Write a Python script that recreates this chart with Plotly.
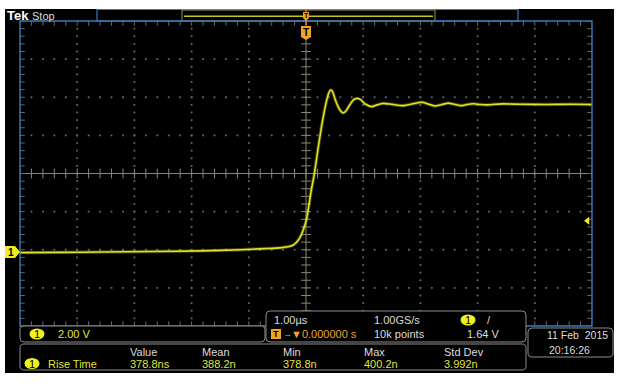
import plotly.graph_objects as go
import numpy as np

# ---------------- data ----------------
TIME_US = [-5.00, -4.30, -3.60, -2.73, -1.85, -1.15, -0.72, -0.455, -0.315,
           -0.227, -0.157, -0.105, -0.052, 0.009, 0.052, 0.087, 0.145, 0.215,
           0.292, 0.362, 0.402, 0.432, 0.463, 0.507, 0.559, 0.612, 0.652,
           0.699, 0.769, 0.830, 0.897, 0.962, 1.031, 1.149, 1.241, 1.346,
           1.503, 1.696, 1.853, 2.023, 2.133, 2.255, 2.378, 2.488, 2.605,
           2.722, 2.815, 2.925, 3.042, 3.159, 3.304, 3.444, 3.741, 4.178,
           4.615, 5.00]
VOLTS = [-0.03, -0.02, 0.00, 0.03, 0.06, 0.12, 0.18, 0.22, 0.28,
         0.36, 0.54, 0.77, 1.13, 1.71, 2.47, 3.15, 4.09, 5.51,
         6.93, 7.97, 8.37, 8.50, 8.43, 8.03, 7.64, 7.38, 7.30,
         7.40, 7.74, 7.98, 8.06, 7.98, 7.77, 7.63, 7.72, 7.80,
         7.75, 7.68, 7.77, 7.86, 7.77, 7.66, 7.74, 7.81, 7.74,
         7.68, 7.74, 7.78, 7.74, 7.72, 7.75, 7.77, 7.75, 7.74,
         7.75, 7.74]
TRIG_LEVEL_V = 1.64
VOLTS_PER_DIV = 2.0
US_PER_DIV = 1.0
GROUND_OFFSET_DIV = 2.06          # ground marker below screen centre
MEAS_LABELS = ["Value", "Mean", "Min", "Max", "Std Dev"]
MEAS_VALUES = ["378.8ns", "388.2n", "378.8n", "400.2n", "3.992n"]

# ---------------- geometry helpers ----------------
W, H = 620, 384
def px(x): return x / W
def py(y): return 1 - y / H

GX0, GX1, GY0, GY1 = 20, 592, 21, 326
T_RANGE = [-5 * US_PER_DIV, 5 * US_PER_DIV]
V_LO = -(4 - GROUND_OFFSET_DIV) * VOLTS_PER_DIV
V_RANGE = [V_LO, V_LO + 8 * VOLTS_PER_DIV]
DX = (T_RANGE[1] - T_RANGE[0]) / (GX1 - GX0)   # data per pixel
DY = (V_RANGE[1] - V_RANGE[0]) / (GY1 - GY0)

FONT = "Liberation Sans Narrow, Arial Narrow, Liberation Sans, sans-serif"
WHITE = "#dcdcdc"
YEL = "#e4e43a"
ORANGE = "#f2a229"
GRID = "#666666"
CROSS = "#8a8674"
BLUE = "#3d79b8"

fig = go.Figure()

# graticule dots
gx, gy = [], []
vsteps = np.arange(V_RANGE[0], V_RANGE[1] + 1e-9, VOLTS_PER_DIV / 5)
tsteps = np.arange(T_RANGE[0], T_RANGE[1] + 1e-9, US_PER_DIV / 5)
for k in range(1, 10):
    if k == 5:
        continue
    t = T_RANGE[0] + k * US_PER_DIV
    for v in vsteps[1:-1]:
        gx.append(t); gy.append(v)
for k in range(1, 8):
    if k == 4:
        continue
    v = V_RANGE[0] + k * VOLTS_PER_DIV
    for t in tsteps[1:-1]:
        gx.append(t); gy.append(v)
fig.add_trace(go.Scatter(x=gx, y=gy, mode="markers", hoverinfo="skip",
                         marker=dict(symbol="square", size=1.8, color=GRID, line=dict(width=0))))

# centre cross
tc = (T_RANGE[0] + T_RANGE[1]) / 2
vc = (V_RANGE[0] + V_RANGE[1]) / 2
fig.add_trace(go.Scatter(x=[T_RANGE[0], T_RANGE[1], None, tc, tc],
                         y=[vc, vc, None, V_RANGE[0], V_RANGE[1]],
                         mode="lines", hoverinfo="skip",
                         line=dict(color=CROSS, width=1)))
fig.add_trace(go.Scatter(x=list(tsteps), y=[vc] * len(tsteps), mode="markers", hoverinfo="skip",
                         marker=dict(symbol="line-ns", size=7, line=dict(color=CROSS, width=1))))
fig.add_trace(go.Scatter(x=[tc] * len(vsteps), y=list(vsteps), mode="markers", hoverinfo="skip",
                         marker=dict(symbol="line-ew", size=7, line=dict(color=CROSS, width=1))))
# border ticks
bx = list(tsteps) + list(tsteps)
by = [V_RANGE[1] - 2 * DY] * len(tsteps) + [V_RANGE[0] + 2 * DY] * len(tsteps)
fig.add_trace(go.Scatter(x=bx, y=by, mode="markers", hoverinfo="skip",
                         marker=dict(symbol="line-ns", size=4, line=dict(color=GRID, width=1))))
bx = [T_RANGE[0] + 2 * DX] * len(vsteps) + [T_RANGE[1] - 2 * DX] * len(vsteps)
by = list(vsteps) + list(vsteps)
fig.add_trace(go.Scatter(x=bx, y=by, mode="markers", hoverinfo="skip",
                         marker=dict(symbol="line-ew", size=4, line=dict(color=GRID, width=1))))

# waveform (fuzz + core)
fig.add_trace(go.Scatter(x=TIME_US, y=VOLTS, mode="lines", hoverinfo="skip",
                         line=dict(color="rgba(225,225,30,0.30)", width=3.4, shape="spline", smoothing=0.6)))
fig.add_trace(go.Scatter(x=TIME_US, y=VOLTS, mode="lines", hoverinfo="skip",
                         line=dict(color="#e2e222", width=1.6, shape="spline", smoothing=0.6)))

# trigger level arrow
fig.add_trace(go.Scatter(x=[T_RANGE[1] - 4.5 * DX], y=[TRIG_LEVEL_V], mode="markers", hoverinfo="skip",
                         marker=dict(symbol="triangle-left", size=7, color="#f0f020")))

shapes = []
# black screen
shapes.append(dict(type="rect", xref="paper", yref="paper", x0=px(5), x1=px(614), y0=py(373), y1=py(9),
                   fillcolor="black", line=dict(width=0), layer="below"))

def rrect(x0, y0, x1, y1, r=4, color="#8c8c8c", fill="black", width=1):
    def P(x, y): return f"{px(x):.5f},{py(y):.5f}"
    path = (f"M {P(x0 + r, y0)} L {P(x1 - r, y0)} Q {P(x1, y0)} {P(x1, y0 + r)} "
            f"L {P(x1, y1 - r)} Q {P(x1, y1)} {P(x1 - r, y1)} L {P(x0 + r, y1)} "
            f"Q {P(x0, y1)} {P(x0, y1 - r)} L {P(x0, y0 + r)} Q {P(x0, y0)} {P(x0 + r, y0)} Z")
    return dict(type="path", xref="paper", yref="paper", path=path, fillcolor=fill,
                line=dict(color=color, width=width), layer="above")

# top bar
shapes.append(dict(type="rect", xref="paper", yref="paper", x0=px(97), x1=px(518), y0=py(21), y1=py(9.5),
                   fillcolor="black", line=dict(color=BLUE, width=1.2), layer="above"))
shapes.append(dict(type="rect", xref="paper", yref="paper", x0=px(182), x1=px(435), y0=py(21), y1=py(10),
                   fillcolor="black", line=dict(color="#9c9460", width=1), layer="above"))
shapes.append(dict(type="line", xref="paper", yref="paper", x0=px(184), x1=px(433), y0=py(16.3), y1=py(16.3),
                   line=dict(color="#c8c418", width=1.6), layer="above"))

# graticule border
shapes.append(dict(type="rect", xref="paper", yref="paper", x0=px(GX0), x1=px(GX1), y0=py(GY1), y1=py(GY0),
                   fillcolor="rgba(0,0,0,0)", line=dict(color=BLUE, width=1.4), layer="above"))

# bottom boxes
shapes.append(rrect(20, 326, 265, 342))
shapes.append(rrect(266, 311, 526, 342))
shapes.append(rrect(20, 344, 526, 370))
shapes.append(rrect(528, 328, 613, 357))

# ground marker (channel 1) at 0 V
gh = 6 * DY
shapes.append(dict(type="path", xref="paper", yref="y",
                   path=f"M {px(5)},{-gh} L {px(15)},{-gh} L {px(20)},0 L {px(15)},{gh} L {px(5)},{gh} Z",
                   fillcolor="#f0f020", line=dict(width=0), layer="above"))

# trigger position markers
def tag(xc, yt, h, w):
    return dict(type="path", xref="paper", yref="paper",
                path=(f"M {px(xc - w)},{py(yt)} L {px(xc + w)},{py(yt)} L {px(xc + w)},{py(yt + h - 3)} "
                      f"L {px(xc)},{py(yt + h)} L {px(xc - w)},{py(yt + h - 3)} Z"),
                fillcolor=ORANGE, line=dict(width=0), layer="above")
xT = GX0 + (0 - T_RANGE[0]) / DX
shapes.append(dict(type="line", xref="paper", yref="paper", x0=px(xT), x1=px(xT), y0=py(9), y1=py(25),
                   line=dict(color=ORANGE, width=1), layer="above"))
shapes.append(tag(xT, 12, 9, 3))
shapes.append(tag(xT, 26, 14, 5))

# badges
def badge(xc, yc, rx=7.5, ry=5.5):
    return dict(type="circle", xref="paper", yref="paper", x0=px(xc - rx), x1=px(xc + rx),
                y0=py(yc + ry), y1=py(yc - ry), fillcolor="#f0f020", line=dict(width=0), layer="above")
shapes.append(badge(37, 334))
shapes.append(badge(32, 363.5))
shapes.append(badge(468, 320))
# trigger-time icon
shapes.append(dict(type="rect", xref="paper", yref="paper", x0=px(271), x1=px(281), y0=py(339), y1=py(329),
                   fillcolor=ORANGE, line=dict(width=0), layer="above"))

ann = []
def text(x, y, s, color=WHITE, size=11, anchor="left", bold=False, yref="paper", xref="paper"):
    ann.append(dict(x=px(x) if xref == "paper" else x, y=py(y) if yref == "paper" else y,
                    xref=xref, yref=yref, text=f"<b>{s}</b>" if bold else s,
                    showarrow=False, xanchor=anchor, yanchor="middle",
                    font=dict(family=FONT, size=size, color=color)))

text(5, 15.5, "Tek", color="white", size=13, bold=True)
text(30, 15.5, "Stop", color=WHITE, size=11)
# trigger T glyphs
text(xT, 15.5, "T", color="black", size=7, anchor="center", bold=True)
text(xT, 32.5, "T", color="black", size=10, anchor="center", bold=True)
# ground marker "1"
ann.append(dict(x=px(11), y=0, xref="paper", yref="y", text="<b>1</b>", showarrow=False,
                xanchor="center", yanchor="middle", font=dict(family=FONT, size=10, color="black")))
# ch1 box
text(37, 334, "1", color="black", size=11, anchor="center")
text(56, 334, f"{VOLTS_PER_DIV:.2f} V", color=YEL)
# timebase box
text(272, 320, f"{US_PER_DIV:.2f}µs")
text(276, 334, "T", color="black", size=9, anchor="center", bold=True)
text(281, 334, "→", color=ORANGE, size=9)
text(289, 334, "▼0.000000 s", color=ORANGE)
text(372, 320, "1.00GS/s")
text(372, 334, "10k points")
text(468, 320, "1", color="black", size=11, anchor="center")
text(485, 320, "/", color=WHITE)
text(465, 334, f"{TRIG_LEVEL_V:.2f} V")
# date box
text(545, 335, "11 Feb  2015", size=10.5)
text(547, 350, "20:16:26", size=10.5)
# measurements
text(32, 363.5, "1", color="black", size=11, anchor="center")
text(46, 363.5, "Rise Time", color=YEL)
MEAS_X = [128, 200, 281, 362, 442]
for xx, lab, val in zip(MEAS_X, MEAS_LABELS, MEAS_VALUES):
    text(xx, 351.5, lab)
    text(xx, 363.5, val, color=YEL)

fig.update_layout(
    width=W, height=H, margin=dict(l=0, r=0, t=0, b=0),
    paper_bgcolor="white", plot_bgcolor="black", showlegend=False,
    shapes=shapes, annotations=ann,
    xaxis=dict(domain=[px(GX0), px(GX1)], range=T_RANGE, showgrid=False, zeroline=False,
               showticklabels=False, showline=False, ticks="", fixedrange=True),
    yaxis=dict(domain=[py(GY1), py(GY0)], range=V_RANGE, showgrid=False, zeroline=False,
               showticklabels=False, showline=False, ticks="", fixedrange=True),
)
fig.write_html("out.html")
